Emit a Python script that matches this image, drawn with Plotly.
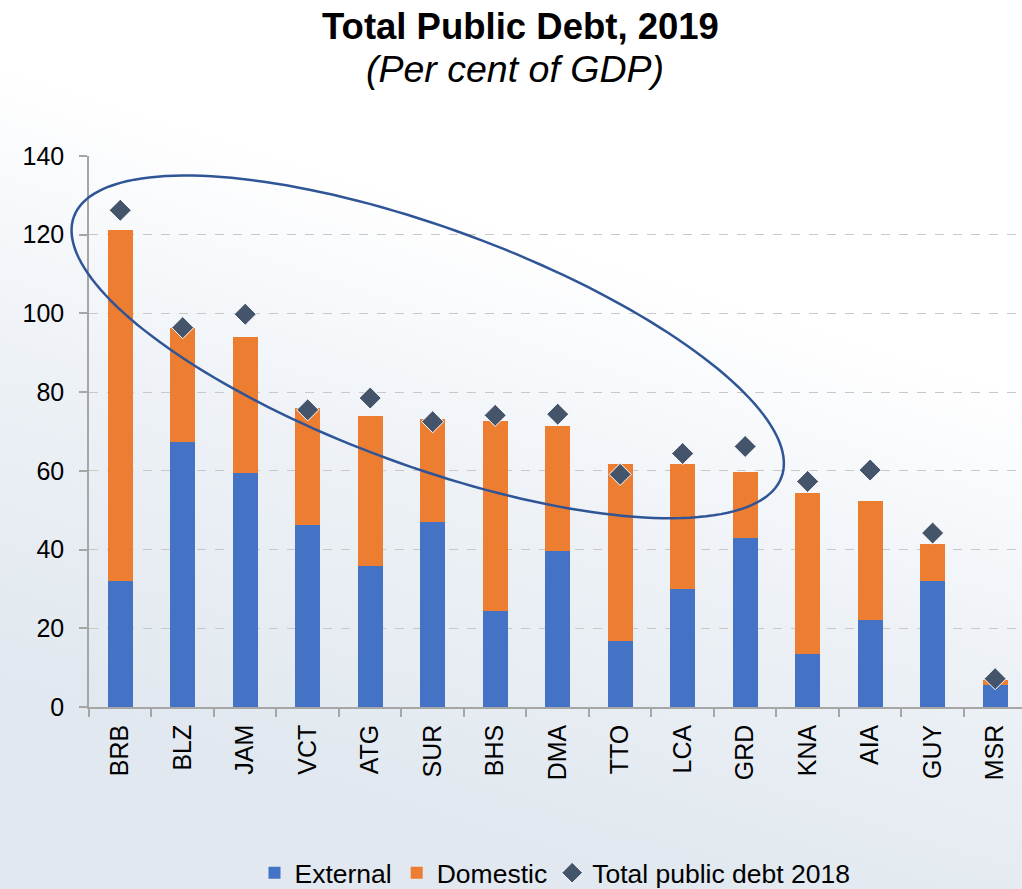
import base64
import numpy as np
import plotly.graph_objects as go

# ---- data (per cent of GDP) ----
countries = ["BRB", "BLZ", "JAM", "VCT", "ATG", "SUR", "BHS", "DMA",
             "TTO", "LCA", "GRD", "KNA", "AIA", "GUY", "MSR"]
external = [32.1, 67.4, 59.4, 46.3, 35.9, 46.9, 24.3, 39.7,
            16.7, 30.0, 43.0, 13.5, 22.2, 31.9, 5.5]
total_2019 = [121.1, 96.3, 94.0, 76.0, 74.0, 73.1, 72.7, 71.3,
              61.8, 61.7, 59.8, 54.5, 52.3, 41.5, 6.9]
domestic = [round(t - e, 1) for t, e in zip(total_2019, external)]
total_2018 = [126.2, 96.4, 99.8, 75.5, 78.5, 72.5, 74.1, 74.4,
              59.1, 64.4, 66.2, 57.3, 60.2, 44.2, 7.2]
y_ticks = [0, 20, 40, 60, 80, 100, 120, 140]

# ---- layout geometry ----
W, H = 1022, 889
M_L, M_R, M_T, M_B = 89, 0, 156, 182
PLOT_W = W - M_L - M_R
PLOT_H = H - M_T - M_B
X_RANGE = [-0.5, 14.43]
Y_RANGE = [0, 140]
px_per_cat = PLOT_W / (X_RANGE[1] - X_RANGE[0])
px_per_unit = PLOT_H / (Y_RANGE[1] - Y_RANGE[0])

BLUE = "#4472C4"
ORANGE = "#ED7D31"
NAVY = "#44546A"
FONT = "Liberation Sans, Arial, sans-serif"

fig = go.Figure()
fig.add_trace(go.Bar(x=countries, y=external, name="External",
                     marker=dict(color=BLUE, line=dict(width=0)), width=0.4))
fig.add_trace(go.Bar(x=countries, y=domestic, name="Domestic",
                     marker=dict(color=ORANGE, line=dict(width=0)), width=0.4))
fig.add_trace(go.Scatter(x=countries, y=total_2018, mode="markers",
                         name="Total public debt 2018",
                         marker=dict(symbol="diamond", size=17, color=NAVY,
                                     line=dict(color="white", width=1))))


def to_paper_x(xv):
    return (xv - X_RANGE[0]) / (X_RANGE[1] - X_RANGE[0])


def to_paper_y(yv):
    return (yv - Y_RANGE[0]) / (Y_RANGE[1] - Y_RANGE[0])


# ---- highlight ellipse around the high-debt group (tilted) ----
ell_cx, ell_cy = 4.92, 91.5          # centre in axis units
ell_a, ell_b = 377.0, 118.7           # semi-axes in pixels
ell_theta = np.radians(20.2)          # tilt (screen, clockwise)
t = np.linspace(0, 2 * np.pi, 181)
dx = ell_a * np.cos(t) * np.cos(ell_theta) - ell_b * np.sin(t) * np.sin(ell_theta)
dy = ell_a * np.cos(t) * np.sin(ell_theta) + ell_b * np.sin(t) * np.cos(ell_theta)
ex = to_paper_x(ell_cx + dx / px_per_cat)
ey = to_paper_y(ell_cy - dy / px_per_unit)
path = "M " + " L ".join(f"{a:.5f},{b:.5f}" for a, b in zip(ex, ey)) + " Z"
fig.add_shape(type="path", path=path, xref="paper", yref="paper",
              line=dict(color="#2F5597", width=2.5), layer="above")

# ---- soft background wash (white at top, pale blue-grey lower down) ----
svg = ('<svg xmlns="http://www.w3.org/2000/svg" width="200" height="200" '
       'viewBox="0 0 200 200" preserveAspectRatio="none">'
       '<defs><linearGradient id="g" x1="0.62" y1="0.3" x2="0.4" y2="0.9">'
       '<stop offset="0" stop-color="#ffffff"/>'
       '<stop offset="0.45" stop-color="#eef2f7"/>'
       '<stop offset="1" stop-color="#e1e8ef"/>'
       '</linearGradient></defs>'
       '<rect width="200" height="200" fill="url(#g)"/></svg>')
src = "data:image/svg+xml;base64," + base64.b64encode(svg.encode()).decode()
fig.add_layout_image(dict(source=src, xref="paper", yref="paper",
                          x=-M_L / PLOT_W, y=1 + M_T / PLOT_H,
                          sizex=W / PLOT_W, sizey=H / PLOT_H,
                          xanchor="left", yanchor="top",
                          sizing="stretch", layer="below", opacity=1))


# ---- titles ----
def px_to_paper_x(px):
    return (px - M_L) / PLOT_W


def px_to_paper_y(py):
    return (H - M_B - py) / PLOT_H


fig.add_annotation(text="<b>Total Public Debt, 2019</b>", xref="paper", yref="paper",
                   x=px_to_paper_x(520), y=px_to_paper_y(26),
                   xanchor="center", yanchor="middle", showarrow=False,
                   font=dict(family=FONT, size=36.5, color="black"))
fig.add_annotation(text="<i>(Per cent of GDP)</i>", xref="paper", yref="paper",
                   x=px_to_paper_x(515), y=px_to_paper_y(69),
                   xanchor="center", yanchor="middle", showarrow=False,
                   font=dict(family=FONT, size=37.5, color="black"))

fig.update_layout(
    width=W, height=H,
    margin=dict(l=M_L, r=M_R, t=M_T, b=M_B, pad=0, autoexpand=False),
    barmode="stack",
    bargap=0.6,
    paper_bgcolor="white",
    plot_bgcolor="rgba(0,0,0,0)",
    font=dict(family=FONT, color="black"),
    showlegend=True,
    legend=dict(orientation="h", traceorder="normal",
                x=px_to_paper_x(555), y=px_to_paper_y(873),
                xanchor="center", yanchor="middle",
                font=dict(family=FONT, size=26.5, color="black"),
                bgcolor="rgba(0,0,0,0)", itemwidth=30),
)
fig.update_xaxes(range=X_RANGE, type="category", tickangle=-90,
                 showline=True, linecolor="#a6a6a6", linewidth=1.5,
                 ticks="outside", tickson="boundaries", ticklen=8,
                 tickcolor="#a6a6a6", tickwidth=1.5, showgrid=False,
                 ticklabelstandoff=6, automargin=False,
                 tickfont=dict(family=FONT, size=25, color="black"))
fig.update_yaxes(range=Y_RANGE, tickvals=y_ticks, showline=True,
                 linecolor="#a6a6a6", linewidth=1.5, ticks="outside",
                 ticklen=8, tickcolor="#a6a6a6", tickwidth=1.5,
                 showgrid=True, gridcolor="#c8c8c8", gridwidth=1.2,
                 griddash="dash", zeroline=False, ticklabelstandoff=10,
                 automargin=False,
                 tickfont=dict(family=FONT, size=25, color="black"))

fig.write_html("out.html")
